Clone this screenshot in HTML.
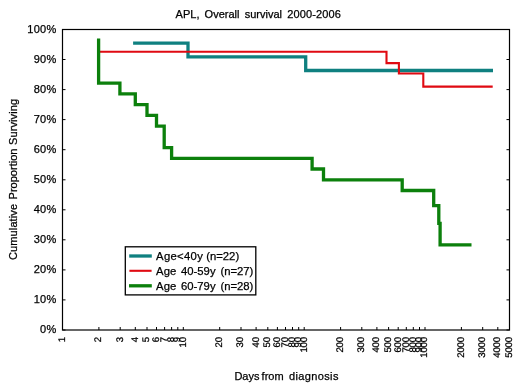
<!DOCTYPE html>
<html><head><meta charset="utf-8"><title>APL, Overall survival 2000-2006</title>
<style>html,body{margin:0;padding:0;background:#fff}svg{display:block}text{font-family:"Liberation Sans",sans-serif;fill:#000;stroke:#000;stroke-width:.25px}</style></head>
<body>
<svg width="520" height="390" viewBox="0 0 520 390">
<rect width="520" height="390" fill="#fff"/>
<rect x="62.5" y="29.5" width="447.0" height="300.5" fill="none" stroke="#000" stroke-width="1.2"/>
<path d="M62.5 330.0h3M509.5 330.0h-3 M62.5 299.9h3M509.5 299.9h-3 M62.5 269.9h3M509.5 269.9h-3 M62.5 239.8h3M509.5 239.8h-3 M62.5 209.8h3M509.5 209.8h-3 M62.5 179.8h3M509.5 179.8h-3 M62.5 149.7h3M509.5 149.7h-3 M62.5 119.6h3M509.5 119.6h-3 M62.5 89.6h3M509.5 89.6h-3 M62.5 59.5h3M509.5 59.5h-3 M62.5 29.5h3M509.5 29.5h-3 M62.5 330v-3 M98.9 330v-3 M120.2 330v-3 M135.3 330v-3 M147.0 330v-3 M156.5 330v-3 M164.6 330v-3 M171.6 330v-3 M177.8 330v-3 M183.3 330v-3 M219.7 330v-3 M241.0 330v-3 M256.1 330v-3 M267.8 330v-3 M277.4 330v-3 M285.5 330v-3 M292.5 330v-3 M298.7 330v-3 M304.2 330v-3 M340.6 330v-3 M361.8 330v-3 M376.9 330v-3 M388.6 330v-3 M398.2 330v-3 M406.3 330v-3 M413.3 330v-3 M419.5 330v-3 M425.0 330v-3 M461.4 330v-3 M482.7 330v-3 M497.8 330v-3 M509.5 330v-3" stroke="#000" stroke-width="1" fill="none"/>
<g font-size="11" text-anchor="end" letter-spacing="0.3">
<text x="56.6" y="32.5">100%</text>
<text x="56.6" y="62.5">90%</text>
<text x="56.6" y="92.6">80%</text>
<text x="56.6" y="122.6">70%</text>
<text x="56.6" y="152.7">60%</text>
<text x="56.6" y="182.8">50%</text>
<text x="56.6" y="212.8">40%</text>
<text x="56.6" y="242.8">30%</text>
<text x="56.6" y="272.9">20%</text>
<text x="56.6" y="302.9">10%</text>
<text x="56.6" y="333.0">0%</text>
</g>
<g font-size="9.6" text-anchor="end" letter-spacing="-0.1" text-rendering="geometricPrecision">
<text transform="translate(64.9 336.9) rotate(-90)">1</text>
<text transform="translate(101.3 336.9) rotate(-90)">2</text>
<text transform="translate(122.6 336.9) rotate(-90)">3</text>
<text transform="translate(137.7 336.9) rotate(-90)">4</text>
<text transform="translate(149.4 336.9) rotate(-90)">5</text>
<text transform="translate(158.9 336.9) rotate(-90)">6</text>
<text transform="translate(167.0 336.9) rotate(-90)">7</text>
<text transform="translate(174.0 336.9) rotate(-90)">8</text>
<text transform="translate(180.2 336.9) rotate(-90)">9</text>
<text transform="translate(185.7 336.9) rotate(-90)">10</text>
<text transform="translate(222.1 336.9) rotate(-90)">20</text>
<text transform="translate(243.4 336.9) rotate(-90)">30</text>
<text transform="translate(258.5 336.9) rotate(-90)">40</text>
<text transform="translate(270.2 336.9) rotate(-90)">50</text>
<text transform="translate(279.8 336.9) rotate(-90)">60</text>
<text transform="translate(287.9 336.9) rotate(-90)">70</text>
<text transform="translate(294.9 336.9) rotate(-90)">80</text>
<text transform="translate(301.1 336.9) rotate(-90)">90</text>
<text transform="translate(306.6 336.9) rotate(-90)">100</text>
<text transform="translate(343.0 336.9) rotate(-90)">200</text>
<text transform="translate(364.2 336.9) rotate(-90)">300</text>
<text transform="translate(379.3 336.9) rotate(-90)">400</text>
<text transform="translate(391.0 336.9) rotate(-90)">500</text>
<text transform="translate(400.6 336.9) rotate(-90)">600</text>
<text transform="translate(408.7 336.9) rotate(-90)">700</text>
<text transform="translate(415.7 336.9) rotate(-90)">800</text>
<text transform="translate(421.9 336.9) rotate(-90)">900</text>
<text transform="translate(427.4 336.9) rotate(-90)">1000</text>
<text transform="translate(463.8 336.9) rotate(-90)">2000</text>
<text transform="translate(485.1 336.9) rotate(-90)">3000</text>
<text transform="translate(500.2 336.9) rotate(-90)">4000</text>
<text transform="translate(511.9 336.9) rotate(-90)">5000</text>
</g>
<text y="18.4" font-size="11"><tspan x="175.6">APL,</tspan> <tspan x="204.6">Overall</tspan> <tspan x="244.7">survival</tspan> <tspan x="287.2" letter-spacing="0.15">2000-2006</tspan></text>
<text y="380.2" font-size="11"><tspan x="234.4">Days</tspan> <tspan x="261.6">from</tspan> <tspan x="289" letter-spacing="0.37">diagnosis</tspan></text>
<text transform="translate(17 0) rotate(-90)" font-size="11"><tspan x="-260" letter-spacing="0.12">Cumulative</tspan> <tspan x="-199.4">Proportion</tspan> <tspan x="-145" letter-spacing="0.1">Surviving</tspan></text>
<path d="M133.1 43.2 L188.0 43.2 L188.0 56.8 L305.7 56.8 L305.7 70.5 L493.0 70.5" fill="none" stroke="#0f8080" stroke-width="3.3" stroke-linejoin="miter"/>
<path d="M98.9 51.7 L386.5 51.7 L386.5 63.1 L398.9 63.1 L398.9 73.5 L423.3 73.5 L423.3 86.6 L492.7 86.6" fill="none" stroke="#e00a12" stroke-width="2.1" stroke-linejoin="miter"/>
<path d="M98.6 38.6 L98.6 83.2 L119.9 83.2 L119.9 93.9 L135.3 93.9 L135.3 104.6 L147.0 104.6 L147.0 115.4 L156.5 115.4 L156.5 126.1 L164.2 126.1 L164.2 147.6 L171.6 147.6 L171.6 158.3 L312.1 158.3 L312.1 169.0 L323.5 169.0 L323.5 179.8 L402.2 179.8 L402.2 190.5 L433.7 190.5 L433.7 205.7 L438.8 205.7 L438.8 223.3 L440.1 223.3 L440.1 244.9 L471.5 244.9" fill="none" stroke="#0c800c" stroke-width="3.3" stroke-linejoin="miter"/>
<rect x="125.3" y="246.8" width="130.5" height="48.1" fill="#fff" stroke="#000" stroke-width="1.3"/>
<path d="M129.2 256H151.8" stroke="#0f8080" stroke-width="3.3"/>
<path d="M129.4 270.8H151.6" stroke="#e00a12" stroke-width="2.1"/>
<path d="M129 285.8H151.8" stroke="#0c800c" stroke-width="3.3"/>
<g font-size="11.3">
<text y="260"><tspan x="156.1" letter-spacing="0.3">Age&lt;40y</tspan> <tspan x="206.2">(n=22)</tspan></text>
<text y="275"><tspan x="156.1">Age</tspan> <tspan x="181">40-59y</tspan> <tspan x="220.4">(n=27)</tspan></text>
<text y="290"><tspan x="156.1">Age</tspan> <tspan x="181">60-79y</tspan> <tspan x="220.4">(n=28)</tspan></text>
</g>
</svg>
</body></html>
